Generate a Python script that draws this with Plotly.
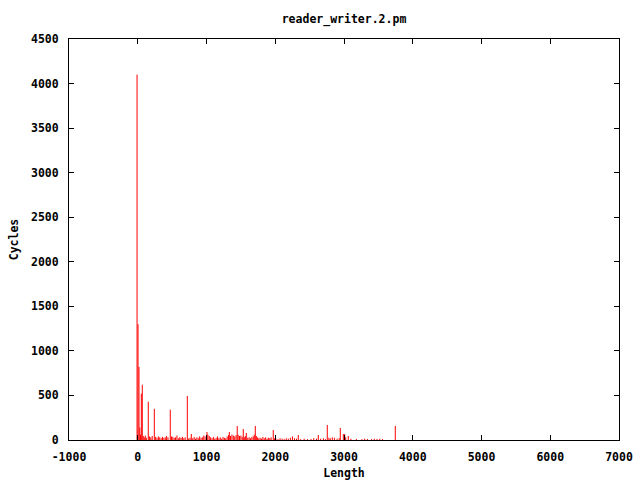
import plotly.graph_objects as go

title = "reader_writer.2.pm"
x_label = "Length"
y_label = "Cycles"

x_ticks = [-1000, 0, 1000, 2000, 3000, 4000, 5000, 6000, 7000]
y_ticks = [0, 500, 1000, 1500, 2000, 2500, 3000, 3500, 4000, 4500]

lengths = [
    -10, 4, 18, 30, 40, 52, 66, 80, 95, 110,
    125, 153, 170, 190, 210, 241, 260, 280, 300, 320,
    340, 360, 380, 400, 420, 440, 473, 490, 510, 530,
    550, 570, 590, 610, 630, 650, 670, 690, 721, 740,
    760, 779, 800, 820, 840, 860, 880, 900, 920, 940,
    960, 980, 1007, 1020, 1040, 1060, 1080, 1100, 1120, 1140,
    1160, 1180, 1200, 1220, 1240, 1260, 1280, 1300, 1320, 1332,
    1350, 1370, 1390, 1410, 1430, 1447, 1460, 1480, 1500, 1520,
    1535, 1550, 1565, 1579, 1600, 1620, 1640, 1660, 1680, 1695,
    1710, 1725, 1740, 1760, 1780, 1800, 1820, 1840, 1860, 1880,
    1900, 1920, 1940, 1971, 1990, 2010, 2040, 2070, 2100, 2130,
    2160, 2190, 2220, 2250, 2280, 2310, 2335, 2370, 2420, 2470,
    2520, 2560, 2600, 2626, 2660, 2700, 2730, 2757, 2780, 2800,
    2830, 2860, 2900, 2930, 2946, 2990, 3010, 3025, 3062, 3100,
    3180, 3260, 3300, 3340, 3400, 3440, 3480, 3520, 3560, 3746,
]
cycles = [
    4100, 1300, 820, 140, 60, 520, 620, 45, 30, 50,
    25, 430, 40, 30, 45, 350, 35, 25, 40, 30,
    20, 35, 25, 30, 45, 30, 340, 40, 35, 25,
    30, 50, 20, 30, 25, 35, 20, 30, 494, 15,
    25, 67, 20, 35, 15, 30, 20, 40, 25, 30,
    50, 40, 90, 60, 45, 30, 20, 35, 15, 25,
    40, 20, 30, 15, 35, 25, 20, 40, 55, 90,
    45, 60, 50, 40, 55, 157, 60, 45, 50, 35,
    123, 30, 45, 79, 25, 30, 20, 35, 40, 60,
    157, 45, 30, 20, 25, 15, 35, 20, 30, 15,
    25, 20, 30, 112, 20, 15, 10, 20, 15, 10,
    20, 15, 25, 40, 20, 15, 56, 10, 15, 10,
    12, 20, 15, 56, 15, 20, 10, 168, 25, 20,
    30, 25, 15, 20, 135, 67, 67, 30, 45, 15,
    12, 10, 15, 12, 10, 15, 12, 15, 10, 157,
]

# impulses: vertical segments from 0 to each value
ix, iy = [], []
for xv, yv in zip(lengths, cycles):
    ix += [xv, xv, None]
    iy += [0, yv, None]

fig = go.Figure()
fig.add_trace(go.Scatter(x=ix, y=iy, mode="lines",
                         line=dict(color="#ff0000", width=1),
                         hoverinfo="skip", showlegend=False))

font = dict(family="DejaVu Sans Mono", size=11.5, color="black", weight="bold")

axis_common = dict(
    showgrid=False, zeroline=False, showline=True, linecolor="black",
    linewidth=1, mirror="allticks", ticks="inside", ticklen=5,
    tickcolor="black", tickfont=font, automargin=False,
)

fig.update_layout(
    width=640, height=480,
    paper_bgcolor="white", plot_bgcolor="white",
    margin=dict(l=69, r=21, t=39, b=40, autoexpand=False),
    title=dict(text=title, x=0.5375, xanchor="center", y=0.96, yanchor="middle",
               font=font, automargin=False),
    xaxis=dict(range=[-1000, 7000], tickvals=x_ticks,
               ticktext=[str(v) for v in x_ticks],
               title=dict(text=x_label, font=font, standoff=6),
               ticklabelstandoff=6, **axis_common),
    yaxis=dict(range=[0, 4500], tickvals=y_ticks,
               ticktext=[str(v) for v in y_ticks],
               title=dict(text=y_label, font=font, standoff=9),
               ticklabelstandoff=7, **axis_common),
)

fig.write_html("out.html", config={"displayModeBar": False},
               post_script="document.body.style.margin='0';document.body.style.overflow='hidden';")
